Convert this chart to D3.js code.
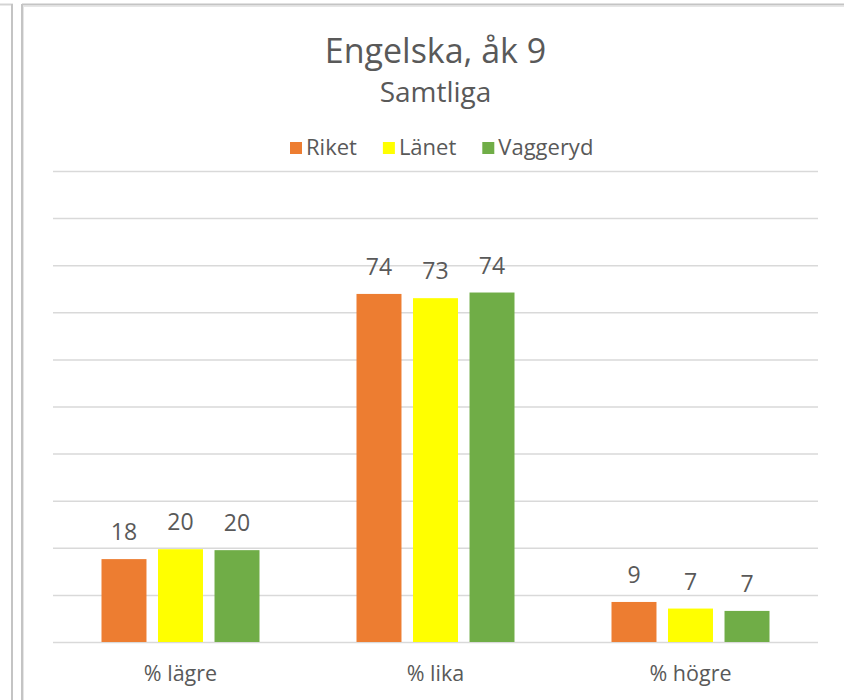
<!DOCTYPE html>
<html>
<head>
<meta charset="utf-8">
<script src="https://cdn.jsdelivr.net/npm/d3@7/dist/d3.min.js"></script>
<style>
  html, body { margin: 0; padding: 0; background: #fff; }
  svg { display: block; }
  text { font-family: "Open Sans", "Noto Sans", sans-serif; fill: #595959; }
</style>
</head>
<body>
<svg id="chart" width="844" height="700"></svg>
<script>
const categories = ["% lägre", "% lika", "% högre"];
const seriesNames = ["Riket", "Länet", "Vaggeryd"];
const seriesColors = ["#ED7D31", "#FFFF00", "#70AD47"];
const riket = [17.6, 73.9, 8.5];
const lanet = [19.7, 73.0, 7.1];
const vaggeryd = [19.5, 74.2, 6.6];
const yTicks = [0, 10, 20, 30, 40, 50, 60, 70, 80, 90, 100];
const titleText = "Engelska, åk 9";
const subtitleText = "Samtliga";

const seriesValues = [riket, lanet, vaggeryd];
const rows = categories.map((c, i) => ({
  cat: c,
  vals: seriesNames.map((s, j) => ({ series: s, color: seriesColors[j], value: seriesValues[j][i] }))
}));

const svg = d3.select("#chart");

// frame
const frame = svg.append("g");
frame.append("rect").attr("x", 0).attr("y", 0).attr("width", 844).attr("height", 700).attr("fill", "#ffffff");
frame.append("line").attr("x1", 0).attr("x2", 13).attr("y1", 4.5).attr("y2", 4.5).attr("stroke", "#d4d4d4").attr("stroke-width", 2);
frame.append("line").attr("x1", 12).attr("x2", 12).attr("y1", 4).attr("y2", 700).attr("stroke", "#c4c4c4").attr("stroke-width", 2);
frame.append("line").attr("x1", 22).attr("x2", 22).attr("y1", 4).attr("y2", 700).attr("stroke", "#c4c4c4").attr("stroke-width", 2);
frame.append("line").attr("x1", 23.5).attr("x2", 23.5).attr("y1", 6).attr("y2", 700).attr("stroke", "#e6e6e6").attr("stroke-width", 1);
frame.append("line").attr("x1", 22).attr("x2", 844).attr("y1", 4.5).attr("y2", 4.5).attr("stroke", "#c4c4c4").attr("stroke-width", 2);
frame.append("line").attr("x1", 23).attr("x2", 844).attr("y1", 6.5).attr("y2", 6.5).attr("stroke", "#e6e6e6").attr("stroke-width", 1);

const plot = { left: 53, right: 818, top: 171, bottom: 642 };

const y = d3.scaleLinear().domain([0, 100]).range([plot.bottom, plot.top]);
const x0 = d3.scaleBand().domain(categories).range([plot.left, plot.right]).paddingInner(0).paddingOuter(0);
const groupPad = (x0.bandwidth() - 158) / 2;
const x1 = d3.scaleBand().domain(seriesNames).range([groupPad, x0.bandwidth() - groupPad]).paddingInner(0.204).paddingOuter(0);

// gridlines via axis
const yAxis = d3.axisLeft(y).tickValues(yTicks).tickSize(-(plot.right - plot.left)).tickFormat("");
const gy = svg.append("g").attr("transform", `translate(${plot.left},0)`).call(yAxis);
gy.select(".domain").remove();
gy.selectAll(".tick line").attr("stroke", "#d9d9d9").attr("stroke-width", 1.5);

// bars
const groups = svg.append("g").selectAll("g").data(rows).join("g")
  .attr("transform", d => `translate(${x0(d.cat)},0)`);

groups.selectAll("rect").data(d => d.vals).join("rect")
  .attr("x", d => x1(d.series))
  .attr("width", x1.bandwidth())
  .attr("y", d => y(d.value))
  .attr("height", d => y(0) - y(d.value))
  .attr("fill", d => d.color);

groups.selectAll("text").data(d => d.vals).join("text")
  .attr("x", d => x1(d.series) + x1.bandwidth() / 2)
  .attr("y", d => y(d.value) - 19)
  .attr("text-anchor", "middle")
  .attr("font-size", 23)
  .text(d => d3.format(".0f")(d.value));

// category axis labels
const xAxis = d3.axisBottom(x0).tickSize(0).tickPadding(0);
const gx = svg.append("g").attr("transform", `translate(0,${plot.bottom})`).call(xAxis);
gx.select(".domain").remove();
gx.selectAll(".tick text")
  .attr("y", 39).attr("dy", 0)
  .attr("font-size", 21.5)
  .attr("fill", "#595959")
  .style("font-family", '"Open Sans", "Noto Sans", sans-serif');

// title
const cx = (plot.left + plot.right) / 2;
svg.append("text").attr("x", cx).attr("y", 63).attr("text-anchor", "middle")
  .attr("font-size", 34).text(titleText);
svg.append("text").attr("x", cx).attr("y", 102).attr("text-anchor", "middle")
  .attr("font-size", 28).text(subtitleText);

// legend
const legend = svg.append("g");
let lx = 290;
seriesNames.forEach((s, i) => {
  legend.append("rect").attr("x", lx).attr("y", 142).attr("width", 12).attr("height", 12).attr("fill", seriesColors[i]);
  const t = legend.append("text").attr("x", lx + 16).attr("y", 155).attr("font-size", 22).text(s);
  lx += 16 + t.node().getComputedTextLength() + 26;
});
</script>
</body>
</html>
